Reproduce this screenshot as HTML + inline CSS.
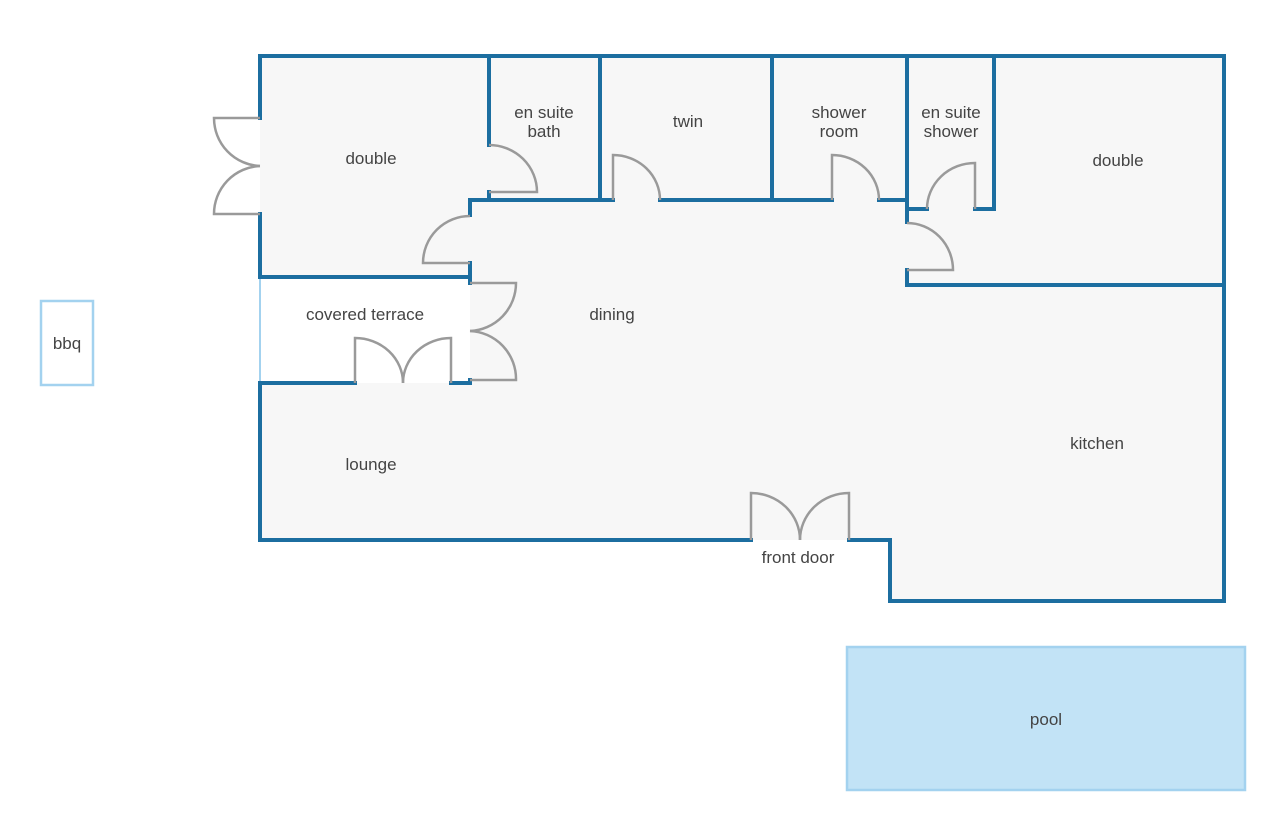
<!DOCTYPE html>
<html><head><meta charset="utf-8"><style>
html,body{margin:0;padding:0;background:#fff;}
svg{display:block}
text{font-family:"Liberation Sans",sans-serif;font-size:17px;fill:#444;text-anchor:middle}
</style></head><body>
<svg width="1280" height="835" viewBox="0 0 1280 835" xmlns="http://www.w3.org/2000/svg">
<!-- floor fill -->
<path d="M260 56 H1224 V601 H890 V540 H260 V383 H470 V277 H260 Z" fill="#f7f7f7"/>
<rect x="260" y="277" width="210" height="106" fill="#fff"/>
<!-- bbq & pool -->
<rect x="41" y="301" width="52" height="84" fill="#fff" stroke="#a3d2ef" stroke-width="2.5"/>
<rect x="847" y="647" width="398" height="143" fill="#c2e3f6" stroke="#a3d2ef" stroke-width="2.5"/>
<line x1="260" y1="277" x2="260" y2="383" stroke="#a3d2ef" stroke-width="2"/>
<!-- walls -->
<g stroke="#1c6ea0" stroke-width="4" fill="none" stroke-linecap="square">
<path d="M260 118 V56 H1224 V601 H890 V540 H849"/>
<path d="M751 540 H260 V383 H355"/>
<path d="M451 383 H470 V380"/>
<path d="M470 283 V277 H260 V214"/>
<path d="M470 263 V277"/>
<path d="M470 215 V200 H613"/>
<path d="M660 200 H832"/>
<path d="M879 200 H907 V222"/>
<path d="M907 270 V285 H1224"/>
<path d="M489 56 V145"/>
<path d="M489 192 V200"/>
<path d="M600 56 V200"/>
<path d="M772 56 V200"/>
<path d="M907 56 V209 H927"/>
<path d="M975 209 H994 V56"/>
</g>
<!-- doors -->
<g stroke="#9a9a9a" stroke-width="2.5" fill="none">
<!-- outer left double -->
<path d="M260 118 H214 A48 48 0 0 0 260 166"/>
<path d="M260 214 H214 A48 48 0 0 1 260 166"/>
<!-- double bedroom to hall -->
<path d="M470 263 H423 A47 47 0 0 1 470 216"/>
<!-- dining double -->
<path d="M470 283 H516 A48 48 0 0 1 470 331"/>
<path d="M470 380 H516 A48 48 0 0 0 470 331"/>
<!-- terrace double -->
<path d="M355 383 V338 A48 45 0 0 1 403 383"/>
<path d="M451 383 V338 A48 45 0 0 0 403 383"/>
<!-- en suite bath -->
<path d="M489 192 H537 A48 47 0 0 0 489 145"/>
<!-- twin -->
<path d="M613 200 V155 A47 45 0 0 1 660 200"/>
<!-- shower room -->
<path d="M832 200 V155 A47 45 0 0 1 879 200"/>
<!-- en suite shower -->
<path d="M975 209 V163 A48 46 0 0 0 927 209"/>
<!-- double right -->
<path d="M907 270 H953 A46 47 0 0 0 907 223"/>
<!-- front door -->
<path d="M751 540 V493 A49 47 0 0 1 800 540"/>
<path d="M849 540 V493 A49 47 0 0 0 800 540"/>
</g>
<!-- labels -->
<text x="371" y="164">double</text>
<text x="544" y="118">en suite</text>
<text x="544" y="137">bath</text>
<text x="688" y="127">twin</text>
<text x="839" y="118">shower</text>
<text x="839" y="137">room</text>
<text x="951" y="118">en suite</text>
<text x="951" y="137">shower</text>
<text x="1118" y="166">double</text>
<text x="365" y="320">covered terrace</text>
<text x="612" y="320">dining</text>
<text x="67" y="349">bbq</text>
<text x="371" y="470">lounge</text>
<text x="1097" y="449">kitchen</text>
<text x="798" y="563">front door</text>
<text x="1046" y="725">pool</text>
</svg>
</body></html>
